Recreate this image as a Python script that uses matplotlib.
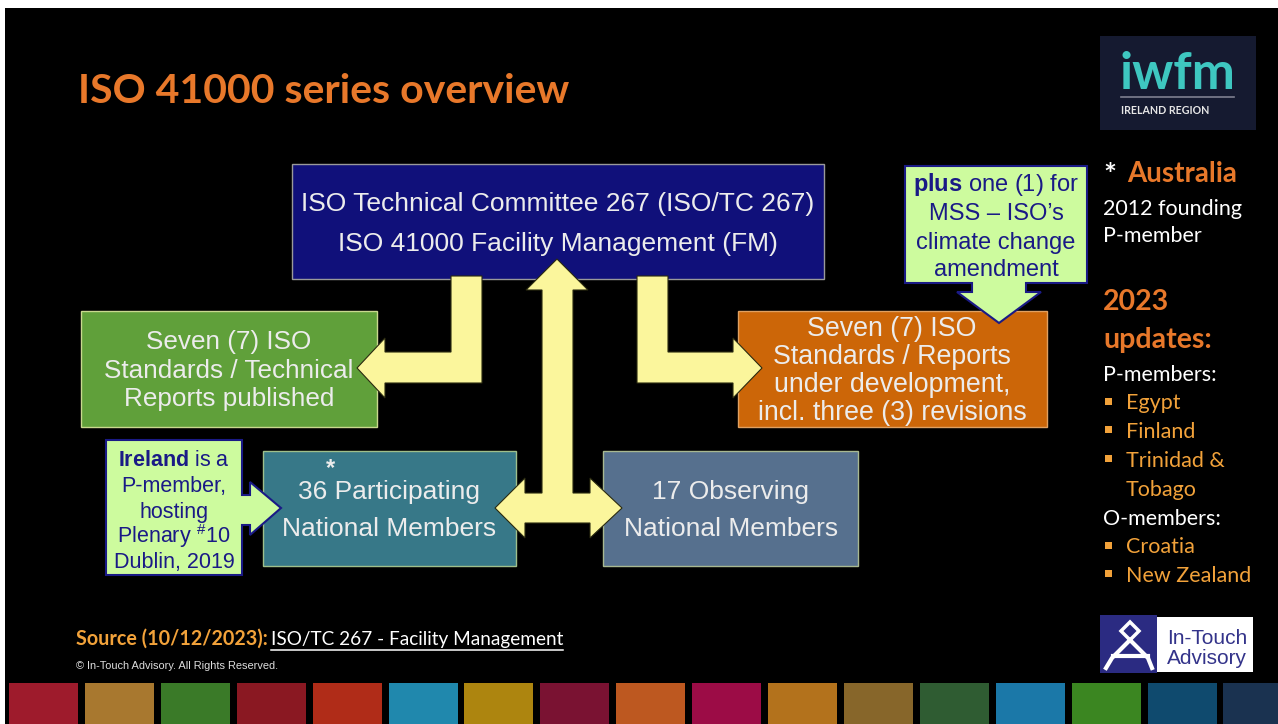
import matplotlib
matplotlib.use("Agg")
import matplotlib.pyplot as plt
from matplotlib.patches import Rectangle, Polygon

# ---- slide content ----
title = "ISO 41000 series overview"
tc_lines = ["ISO Technical Committee 267 (ISO/TC 267)", "ISO 41000 Facility Management (FM)"]
published_lines = ["Seven (7) ISO", "Standards / Technical", "Reports published"]
development_lines = ["Seven (7) ISO", "Standards / Reports", "under development,", "incl. three (3) revisions"]
participating_lines = ["36 Participating", "National Members"]
observing_lines = ["17 Observing", "National Members"]
mss_lines = [r"$\mathbf{plus}$ one (1) for", "MSS \u2013 ISO\u2019s", "climate change", "amendment"]
ireland_lines = [r"$\mathbf{Ireland}$ is a", "P-member,", "hosting", r"Plenary $^{\#}$10", "Dublin, 2019"]
founding_lines = ["2012 founding", "P-member"]
updates_lines = ["2023", "updates:"]
p_members = [["Egypt"], ["Finland"], ["Trinidad &", "Tobago"]]
o_members = [["Croatia"], ["New Zealand"]]
source_label = "Source (10/12/2023):"
source_link = "ISO/TC 267 - Facility Management"
copyright_text = "\u00a9 In-Touch Advisory. All Rights Reserved."
sdg_colors = ["#9e1b2c", "#a8782f", "#3a7a28", "#8a1822", "#b02c18", "#2088ad",
              "#ad850f", "#7a1232", "#bd5820", "#9c0c46", "#b3721c", "#87662a",
              "#2f5c32", "#1b78a8", "#3b8621", "#0f4a6e", "#1a3250"]

# ---- colours ----
ORANGE = "#e8782a"
GOLD = "#f2a23a"
YELLOW = "#fbf69c"
LIME = "#cdfb9e"
NAVY = "#1a1a86"
BOXTXT = "#ececec"
ARIAL = "Liberation Sans"
CALIBRI = "Lato"

plt.rcParams["mathtext.fontset"] = "custom"
plt.rcParams["mathtext.rm"] = "Liberation Sans"
plt.rcParams["mathtext.bf"] = "Liberation Sans:bold"

W, H = 1278, 724
fig = plt.figure(figsize=(W / 100, H / 100), dpi=100, facecolor="white")
ax = fig.add_axes([0, 0, 1, 1])
ax.set_xlim(0, W)
ax.set_ylim(H, 0)
ax.axis("off")


def put(x, yc, s, size, color, ha="left", family=ARIAL, weight="normal", z=5):
    # yc is the visual middle of the capitals
    base = yc + 0.36 * size * 100 / 72
    return ax.text(x, base, s, fontsize=size, color=color, ha=ha, va="baseline",
                   family=family, fontweight=weight, zorder=z)


def box(x0, y0, x1, y1, fc, ec="none", lw=1.0, z=2):
    ax.add_patch(Rectangle((x0, y0), x1 - x0, y1 - y0, fc=fc, ec=ec, lw=lw, zorder=z))


def stack(xc, ys, texts, size, color, family=ARIAL, weight="normal"):
    for y, s in zip(ys, texts):
        put(xc, y, s, size, color, ha="center", family=family, weight=weight, z=6)


# slide background
box(5, 8, W, H, "black", z=0)

put(78, 88, title, 29.5, ORANGE, family=CALIBRI, weight="bold")

# iwfm logo
box(1100, 36, 1256, 130, "#151a30", z=1)
ax.text(1177, 89, "iwfm", fontsize=37, color="#3ec7c0", ha="center", va="baseline",
        family="Lato", fontweight="bold", zorder=3)
ax.plot([1121, 1234], [97, 97], color="#7e8090", lw=1.2, zorder=3)
put(1121, 110, "IRELAND REGION", 7.7, "#e6e6e6", family=CALIBRI, weight="bold", z=3)

# main boxes
box(292, 164, 824, 279, "#10107a", ec="#9a9a9a", lw=1)
box(81, 311, 377, 427, "#60a03a", ec="#c9d98e", lw=1)
box(738, 311, 1047, 427, "#cc6608", ec="#e0a060", lw=1)
box(263, 451, 516, 566, "#377888", ec="#9fbf8a", lw=1)
box(603, 451, 858, 566, "#56708e", ec="#a8b890", lw=1)

stack(558, [202, 242], tc_lines, 19, BOXTXT)
stack(229, [340, 369, 397], published_lines, 18.8, BOXTXT)
stack(892, [326, 354, 382, 410], development_lines, 19.3, BOXTXT)
stack(389, [489, 527], participating_lines, 19, BOXTXT)
stack(731, [489, 527], observing_lines, 19, BOXTXT)
put(330, 467, "*", 17, BOXTXT, ha="center", weight="bold", z=6)

# yellow arrows
left_arrow = [(451, 276), (482, 276), (482, 383), (385, 383), (385, 398), (357, 368),
              (385, 338), (385, 352), (451, 352)]
right_arrow = [(637, 276), (668, 276), (668, 352), (733, 352), (733, 338), (762, 368),
               (733, 398), (733, 383), (637, 383)]
cross_arrow = [(557, 259), (588, 290), (573, 290), (573, 493), (590, 493), (590, 478),
               (622, 508), (590, 538), (590, 523), (525, 523), (525, 538), (495, 508),
               (525, 478), (525, 493), (542, 493), (542, 290), (526, 290)]
for pts in (left_arrow, right_arrow, cross_arrow):
    ax.add_patch(Polygon(pts, closed=True, fc=YELLOW, ec="#2a2a10", lw=0.8, zorder=4))

# callouts
mss_callout = [(905, 166), (1087, 166), (1087, 283), (1026, 283), (1026, 292), (1041, 292),
               (999, 323), (957, 292), (972, 292), (972, 283), (905, 283)]
ireland_callout = [(106, 440), (242, 440), (242, 495), (250, 495), (250, 482), (281, 508),
                   (250, 535), (250, 525), (242, 525), (242, 575), (106, 575)]
for pts in (mss_callout, ireland_callout):
    ax.add_patch(Polygon(pts, closed=True, fc=LIME, ec=NAVY, lw=1.5, zorder=5))

stack(996, [183, 212, 240, 268], mss_lines, 17, NAVY)
stack(174, [458, 484, 510, 535, 560], ireland_lines, 15.5, NAVY)

# right-hand notes
put(1110, 174, "*", 22, "white", ha="center", family=CALIBRI, weight="bold")
put(1127, 172, "Australia", 20, ORANGE, family=CALIBRI, weight="bold")
for y, s in zip([207, 234], founding_lines):
    put(1103, y, s, 15.5, "white", family=CALIBRI)
for y, s in zip([300, 338], updates_lines):
    put(1103, y, s, 20.5, ORANGE, family=CALIBRI, weight="bold")

y = 373
put(1103, y, "P-members:", 15.5, "white", family=CALIBRI)
for group in (p_members, "O", o_members):
    if group == "O":
        y += 29
        put(1103, y, "O-members:", 15.5, "white", family=CALIBRI)
        continue
    for item in group:
        for k, s in enumerate(item):
            y += 28.7
            if k == 0:
                ax.add_patch(Rectangle((1105, y - 4), 7, 7, fc=GOLD, ec="none", zorder=5))
            put(1126, y, s, 15.5, GOLD, family=CALIBRI)

# source + copyright
put(76, 638, source_label, 14.2, GOLD, family=CALIBRI, weight="bold")
link = put(271, 638, source_link, 13.7, "white", family=CALIBRI)
fig.canvas.draw()
bb = link.get_window_extent()
ax.plot([271, 271 + bb.width], [650, 650], color="white", lw=1.1, zorder=5)
put(76, 665, copyright_text, 7.9, "#dddddd")

# In-Touch Advisory logo
box(1100, 615, 1157, 673, "#2b2b82", z=3)
box(1157, 617, 1253, 672, "white", z=3)
ax.add_patch(Polygon([(1130, 622), (1139, 631), (1130, 640), (1121, 631)], closed=True,
                     fc="none", ec="white", lw=2.5, zorder=4))
ax.plot([1130, 1112, 1106], [640, 658, 668], color="white", lw=3, zorder=4)
ax.plot([1130, 1148, 1152], [640, 658, 668], color="white", lw=3, zorder=4)
ax.plot([1113, 1148], [656, 656], color="white", lw=3, zorder=4)
put(1207, 636, "In-Touch", 15, "#33338a", ha="center", z=4)
put(1207, 657, "Advisory", 15, "#33338a", ha="center", z=4)

# SDG colour strip
for i, c in enumerate(sdg_colors):
    box(9 + i * 75.9, 683, 9 + i * 75.9 + 69, H, c, z=1)

fig.savefig("out.png", dpi=100, facecolor="white")
